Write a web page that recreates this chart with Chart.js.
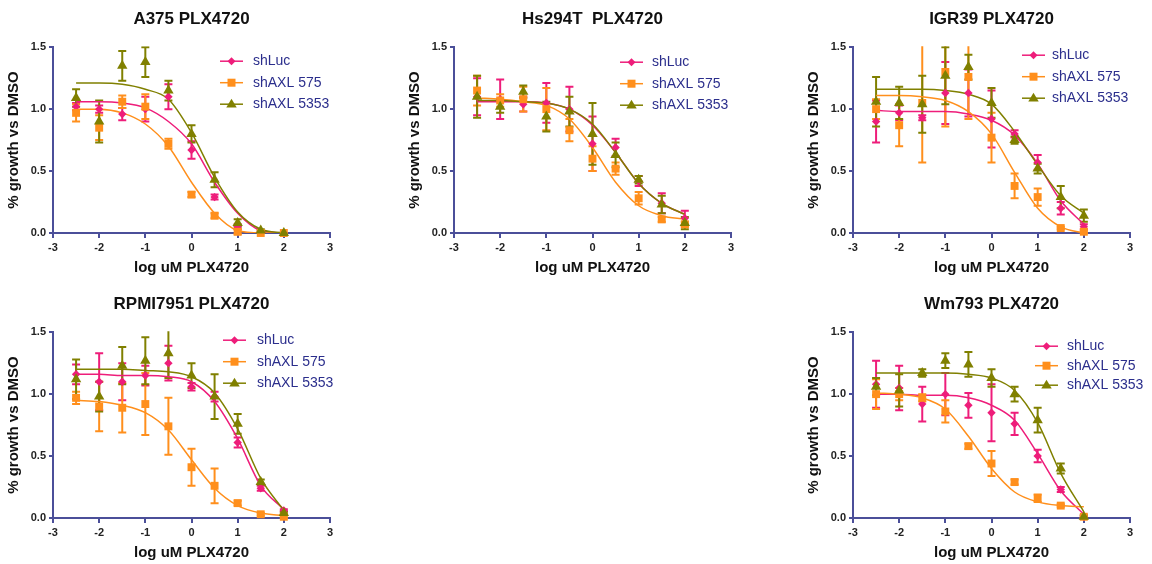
<!DOCTYPE html>
<html>
<head>
<meta charset="utf-8">
<title>PLX4720 dose response</title>
<script src="https://cdn.jsdelivr.net/npm/chart.js@4.4.1/dist/chart.umd.min.js"></script>
<style>
    body { margin: 0; background: #fff; width: 1152px; height: 564px; position: relative; overflow: hidden; }
    .panel { position: absolute; }
</style>
</head>
<body>
<div class="panel" style="left:0px;top:0px"><canvas id="chartA375" width="380" height="282"></canvas></div>
<div class="panel" style="left:401px;top:0px"><canvas id="chartHs294T" width="380" height="282"></canvas></div>
<div class="panel" style="left:800px;top:0px"><canvas id="chartIGR39" width="380" height="282"></canvas></div>
<div class="panel" style="left:0px;top:285px"><canvas id="chartRPMI" width="380" height="282"></canvas></div>
<div class="panel" style="left:800px;top:285px"><canvas id="chartWm793" width="380" height="282"></canvas></div>
<script>
// Doses (log uM) and axis ticks
const doses = [-2.5, -2, -1.5, -1, -0.5, 0, 0.5, 1, 1.5, 2];
const xTicks = [-3, -2, -1, 0, 1, 2, 3];
const yTicks = [0, 0.5, 1.0, 1.5];
const seriesNames = ['shLuc', 'shAXL 575', 'shAXL 5353'];

// A375
const a375Luc = [1.02, 1.00, 0.96, 1.00, 1.10, 0.67, 0.29, 0.05, 0.01, 0.00];
const a375LucErr = [0.03, 0.03, 0.05, 0.10, 0.10, 0.07, 0.02, 0.02, 0.01, 0.00];
const a375LucFit = [1.06, 1.06, 1.05, 1.01, 0.90, 0.72, 0.41, 0.16, 0.02, 0.00];
const a375Axl575 = [0.97, 0.85, 1.06, 1.02, 0.72, 0.31, 0.14, 0.01, 0.00, 0.00];
const a375Axl575Err = [0.07, 0.10, 0.05, 0.10, 0.04, 0.02, 0.02, 0.02, 0.00, 0.00];
const a375Axl575Fit = [1.00, 1.00, 0.97, 0.88, 0.70, 0.41, 0.16, 0.02, 0.00, 0.00];
const a375Axl5353 = [1.09, 0.90, 1.35, 1.38, 1.15, 0.80, 0.43, 0.08, 0.02, 0.00];
const a375Axl5353Err = [0.07, 0.17, 0.12, 0.12, 0.08, 0.07, 0.06, 0.03, 0.01, 0.00];
const a375Axl5353Fit = [1.21, 1.21, 1.20, 1.16, 1.08, 0.81, 0.45, 0.17, 0.03, 0.00];

// Hs294T
const hsLuc = [1.10, 1.08, 1.04, 1.05, 1.00, 0.72, 0.69, 0.42, 0.24, 0.12];
const hsLucErr = [0.15, 0.16, 0.06, 0.16, 0.18, 0.22, 0.07, 0.04, 0.08, 0.06];
const hsLucFit = [1.06, 1.06, 1.06, 1.05, 1.00, 0.87, 0.65, 0.40, 0.24, 0.15];
const hsAxl575 = [1.15, 1.07, 1.08, 1.00, 0.83, 0.60, 0.52, 0.28, 0.11, 0.07];
const hsAxl575Err = [0.12, 0.05, 0.10, 0.17, 0.09, 0.10, 0.05, 0.05, 0.02, 0.02];
const hsAxl575Fit = [1.09, 1.08, 1.06, 1.03, 0.92, 0.69, 0.41, 0.22, 0.14, 0.11];
const hsAxl5353 = [1.10, 1.02, 1.14, 0.94, 0.98, 0.80, 0.63, 0.43, 0.23, 0.08];
const hsAxl5353Err = [0.17, 0.05, 0.05, 0.12, 0.12, 0.25, 0.10, 0.03, 0.07, 0.05];
const hsAxl5353Fit = [1.07, 1.07, 1.06, 1.05, 1.00, 0.88, 0.65, 0.40, 0.24, 0.15];

// IGR39
const igrLuc = [0.90, 0.97, 0.93, 1.13, 1.13, 0.92, 0.80, 0.57, 0.20, 0.05];
const igrLucErr = [0.17, 0.06, 0.02, 0.25, 0.19, 0.23, 0.03, 0.06, 0.05, 0.02];
const igrLucFit = [0.99, 0.98, 0.98, 0.98, 0.96, 0.91, 0.79, 0.56, 0.26, 0.07];
const igrAxl575 = [1.00, 0.87, 1.05, 1.30, 1.26, 0.77, 0.38, 0.29, 0.04, 0.01];
const igrAxl575Err = [0.08, 0.17, 0.48, 0.44, 0.34, 0.20, 0.10, 0.07, 0.01, 0.01];
const igrAxl575Fit = [1.11, 1.11, 1.10, 1.07, 0.98, 0.80, 0.49, 0.20, 0.05, 0.00];
const igrAxl5353 = [1.06, 1.05, 1.04, 1.27, 1.34, 1.05, 0.75, 0.52, 0.29, 0.14];
const igrAxl5353Err = [0.20, 0.13, 0.23, 0.23, 0.10, 0.12, 0.03, 0.04, 0.09, 0.05];
const igrAxl5353Fit = [1.16, 1.16, 1.16, 1.15, 1.12, 1.04, 0.82, 0.55, 0.30, 0.16];

// RPMI7951
const rpmiLuc = [1.16, 1.10, 1.10, 1.15, 1.25, 1.06, 0.98, 0.61, 0.24, 0.06];
const rpmiLucErr = [0.08, 0.23, 0.15, 0.08, 0.14, 0.03, 0.04, 0.04, 0.02, 0.01];
const rpmiLucFit = [1.16, 1.16, 1.15, 1.15, 1.14, 1.10, 0.94, 0.64, 0.26, 0.07];
const rpmiAxl575 = [0.97, 0.90, 0.89, 0.92, 0.74, 0.41, 0.26, 0.12, 0.03, 0.01];
const rpmiAxl575Err = [0.05, 0.20, 0.20, 0.25, 0.23, 0.15, 0.14, 0.02, 0.01, 0.01];
const rpmiAxl575Fit = [0.95, 0.94, 0.91, 0.85, 0.71, 0.47, 0.24, 0.10, 0.04, 0.02];
const rpmiAxl5353 = [1.12, 0.98, 1.23, 1.27, 1.33, 1.15, 0.98, 0.76, 0.29, 0.04];
const rpmiAxl5353Err = [0.16, 0.12, 0.15, 0.19, 0.20, 0.10, 0.18, 0.08, 0.02, 0.01];
const rpmiAxl5353Fit = [1.20, 1.20, 1.20, 1.19, 1.18, 1.14, 1.01, 0.72, 0.32, 0.06];

// Wm793
const wmLuc = [1.08, 1.05, 0.92, 1.00, 0.91, 0.85, 0.76, 0.50, 0.23, 0.01];
const wmLucErr = [0.19, 0.18, 0.14, 0.17, 0.10, 0.23, 0.09, 0.05, 0.02, 0.01];
const wmLucFit = [1.00, 1.00, 0.99, 0.99, 0.97, 0.91, 0.79, 0.52, 0.22, 0.03];
const wmAxl575 = [1.00, 1.00, 0.97, 0.86, 0.58, 0.44, 0.29, 0.16, 0.10, 0.01];
const wmAxl575Err = [0.12, 0.05, 0.03, 0.09, 0.02, 0.10, 0.02, 0.03, 0.01, 0.01];
const wmAxl575Fit = [1.01, 1.00, 0.97, 0.88, 0.66, 0.40, 0.21, 0.13, 0.10, 0.09];
const wmAxl5353 = [1.06, 1.03, 1.17, 1.27, 1.24, 1.13, 1.00, 0.79, 0.40, 0.01];
const wmAxl5353Err = [0.07, 0.13, 0.03, 0.06, 0.10, 0.07, 0.06, 0.10, 0.04, 0.01];
const wmAxl5353Fit = [1.17, 1.17, 1.17, 1.17, 1.16, 1.13, 1.03, 0.77, 0.36, 0.05];

const AXIS = '#4b4f99';
const LEGEND_TEXT = '#2b2e8c';
const FONT = 'Arial, "Liberation Sans", sans-serif';
const styles = [
    { color: '#ee1d7a', shape: 'diamond', r: 4 },
    { color: '#ff8f1c', shape: 'square', r: 4 },
    { color: '#808000', shape: 'triangle', r: 5.5 }
];

// draw one marker on a canvas (legend only)
function drawMarker(ctx, shape, x, y, r) {
    ctx.beginPath();
    if (shape === 'diamond') {
        ctx.moveTo(x, y - r); ctx.lineTo(x + r, y); ctx.lineTo(x, y + r); ctx.lineTo(x - r, y);
    } else if (shape === 'square') {
        ctx.rect(x - r, y - r, 2 * r, 2 * r);
    } else {
        ctx.moveTo(x, y - r); ctx.lineTo(x + r * 0.95, y + r * 0.6); ctx.lineTo(x - r * 0.95, y + r * 0.6);
    }
    ctx.closePath();
    ctx.fill();
}

// Error bars with caps, drawn under the markers
const errorBarPlugin = {
    id: 'errorBars',
    beforeDatasetsDraw(chart) {
        const { ctx, chartArea, scales } = chart;
        ctx.save();
        ctx.beginPath();
        ctx.rect(chartArea.left - 10, chartArea.top - 1, chartArea.width + 20, chartArea.height + 10);
        ctx.clip();
        chart.data.datasets.forEach(ds => {
            if (!ds.errors) return;
            ctx.strokeStyle = ds.borderColor;
            ctx.lineWidth = 2;
            ds.data.forEach((p, i) => {
                const e = ds.errors[i];
                if (!e) return;
                const px = scales.x.getPixelForValue(p.x);
                const top = scales.y.getPixelForValue(p.y + e);
                const bot = scales.y.getPixelForValue(p.y - e);
                ctx.beginPath();
                ctx.moveTo(px, top); ctx.lineTo(px, bot);
                ctx.moveTo(px - 4, top); ctx.lineTo(px + 4, top);
                ctx.moveTo(px - 4, bot); ctx.lineTo(px + 4, bot);
                ctx.stroke();
            });
        });
        ctx.restore();
    }
};

// Legend inside the plot, GraphPad style (line through marker)
const insetLegendPlugin = {
    id: 'insetLegend',
    afterDraw(chart, args, opts) {
        const { ctx, chartArea } = chart;
        const items = chart.data.datasets.filter(ds => ds.legendShape);
        items.forEach((ds, i) => {
            const y = chartArea.top + opts.y + i * opts.gap;
            const x0 = chartArea.left + opts.x;
            ctx.save();
            ctx.strokeStyle = ds.borderColor;
            ctx.fillStyle = ds.borderColor;
            ctx.lineWidth = 1.5;
            ctx.beginPath();
            ctx.moveTo(x0, y);
            ctx.lineTo(x0 + 23, y);
            ctx.stroke();
            drawMarker(ctx, ds.legendShape, x0 + 11.5, y, ds.legendR);
            ctx.fillStyle = LEGEND_TEXT;
            ctx.font = '14px ' + FONT;
            ctx.textBaseline = 'middle';
            ctx.fillText(ds.label, chartArea.left + opts.textX, y);
            ctx.restore();
        });
    }
};

function toPoints(values) {
    return doses.map((d, i) => ({ x: d, y: values[i] }));
}

function pointStyleFor(shape) {
    return shape === 'diamond' ? 'rectRot' : shape === 'square' ? 'rect' : 'triangle';
}

// Build one panel
function makePanel(canvasId, title, series, legend) {
    const datasets = [];
    series.forEach((s, k) => {
        const st = styles[k];
        datasets.push({
            label: seriesNames[k],
            data: toPoints(s.values),
            errors: s.errors,
            showLine: false,
            pointStyle: pointStyleFor(st.shape),
            pointRadius: st.shape === 'square' ? 5.6 : st.shape === 'diamond' ? 4.2 : 6,
            backgroundColor: st.color,
            borderColor: st.color,
            borderWidth: 0,
            clip: false,
            order: 3 - k,
            legendShape: st.shape,
            legendR: st.r
        });
        datasets.push({
            label: seriesNames[k] + ' fit',
            data: toPoints(s.fit),
            showLine: true,
            pointRadius: 0,
            borderColor: st.color,
            borderWidth: 1.5,
            cubicInterpolationMode: 'monotone',
            fill: false,
            order: 6 - k
        });
    });

    const ctx = document.getElementById(canvasId).getContext('2d');
    return new Chart(ctx, {
        type: 'scatter',
        data: { datasets },
        options: {
            responsive: false,
            animation: false,
            events: [],
            layout: { padding: { left: 0, right: 50, top: 0, bottom: 0 } },
            plugins: {
                legend: { display: false },
                tooltip: { enabled: false },
                title: {
                    display: true,
                    text: title,
                    fullSize: false,
                    color: '#111',
                    font: { family: FONT, size: 17, weight: 'bold' },
                    padding: { top: 9, bottom: 17.8 }
                },
                insetLegend: legend
            },
            scales: {
                x: {
                    type: 'linear',
                    min: -3,
                    max: 3,
                    afterFit: s => { s.height = 49; },
                    afterBuildTicks: s => { s.ticks = xTicks.map(v => ({ value: v })); },
                    border: { display: true, color: AXIS, width: 2 },
                    grid: { display: true, drawOnChartArea: false, drawTicks: true, tickLength: 5, color: AXIS, lineWidth: 2 },
                    ticks: { color: '#222', padding: 3, font: { family: FONT, size: 11, weight: 'bold' } },
                    title: {
                        display: true,
                        text: 'log uM PLX4720',
                        color: '#111',
                        font: { family: FONT, size: 15, weight: 'bold' },
                        padding: { top: 0, bottom: 5 }
                    }
                },
                y: {
                    type: 'linear',
                    min: 0,
                    max: 1.5,
                    afterFit: s => { s.width = 53; },
                    afterBuildTicks: s => { s.ticks = yTicks.map(v => ({ value: v })); },
                    border: { display: true, color: AXIS, width: 2 },
                    grid: { display: true, drawOnChartArea: false, drawTicks: true, tickLength: 4, color: AXIS, lineWidth: 2 },
                    ticks: {
                        color: '#222',
                        padding: 3,
                        font: { family: FONT, size: 11, weight: 'bold' },
                        callback: v => Number(v).toFixed(1)
                    },
                    title: {
                        display: true,
                        text: '% growth vs DMSO',
                        color: '#111',
                        font: { family: FONT, size: 15, weight: 'bold' },
                        padding: { top: 5, bottom: 0 }
                    }
                }
            }
        },
        plugins: [errorBarPlugin, insetLegendPlugin]
    });
}

// Initialize Charts
function initializeCharts() {
    makePanel('chartA375', 'A375 PLX4720', [
        { values: a375Luc, errors: a375LucErr, fit: a375LucFit },
        { values: a375Axl575, errors: a375Axl575Err, fit: a375Axl575Fit },
        { values: a375Axl5353, errors: a375Axl5353Err, fit: a375Axl5353Fit }
    ], { x: 167, textX: 200, y: 14, gap: 21.5 });

    makePanel('chartHs294T', 'Hs294T  PLX4720', [
        { values: hsLuc, errors: hsLucErr, fit: hsLucFit },
        { values: hsAxl575, errors: hsAxl575Err, fit: hsAxl575Fit },
        { values: hsAxl5353, errors: hsAxl5353Err, fit: hsAxl5353Fit }
    ], { x: 166, textX: 198, y: 15, gap: 21.5 });

    makePanel('chartIGR39', 'IGR39 PLX4720', [
        { values: igrLuc, errors: igrLucErr, fit: igrLucFit },
        { values: igrAxl575, errors: igrAxl575Err, fit: igrAxl575Fit },
        { values: igrAxl5353, errors: igrAxl5353Err, fit: igrAxl5353Fit }
    ], { x: 169, textX: 199, y: 8, gap: 21.5 });

    makePanel('chartRPMI', 'RPMI7951 PLX4720', [
        { values: rpmiLuc, errors: rpmiLucErr, fit: rpmiLucFit },
        { values: rpmiAxl575, errors: rpmiAxl575Err, fit: rpmiAxl575Fit },
        { values: rpmiAxl5353, errors: rpmiAxl5353Err, fit: rpmiAxl5353Fit }
    ], { x: 170, textX: 204, y: 8, gap: 21.5 });

    makePanel('chartWm793', 'Wm793 PLX4720', [
        { values: wmLuc, errors: wmLucErr, fit: wmLucFit },
        { values: wmAxl575, errors: wmAxl575Err, fit: wmAxl575Fit },
        { values: wmAxl5353, errors: wmAxl5353Err, fit: wmAxl5353Fit }
    ], { x: 182, textX: 214, y: 14, gap: 19.5 });
}

initializeCharts();
</script>
</body>
</html>
